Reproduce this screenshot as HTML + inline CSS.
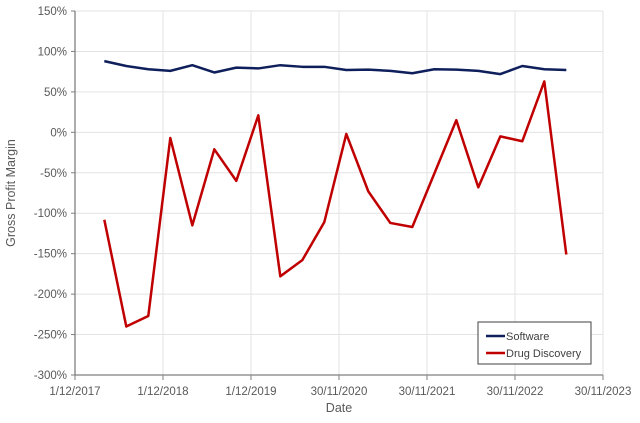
<!DOCTYPE html>
<html><head><meta charset="utf-8"><style>
body{margin:0;background:#fff;}
svg text{font-family:"Liberation Sans",sans-serif;}
</style></head><body>
<svg id="c" width="640" height="418" xmlns="http://www.w3.org/2000/svg"></svg>
<script>
const dates=[2018.25,2018.5,2018.75,2019.0,2019.25,2019.5,2019.75,2020.0,2020.25,2020.5,2020.75,2021.0,2021.25,2021.5,2021.75,2022.0,2022.25,2022.5,2022.75,2023.0,2023.25,2023.5];
const software=[88,82,78,76,83,74,80,79,83,81,81,77,77.5,76,73,78,77.5,76,72,82,78,77];
const drug=[-108,-240,-227,-7,-115,-21,-60,21,-178,-158,-111,-2,-73,-112,-117,-51,15,-68,-5,-11,63,-151];
const yTicks=[150,100,50,0,-50,-100,-150,-200,-250,-300];
const xTickVals=[2017.917,2018.917,2019.917,2020.917,2021.917,2022.917,2023.917];
const xTickLabels=["1/12/2017","1/12/2018","1/12/2019","30/11/2020","30/11/2021","30/11/2022","30/11/2023"];
const L=75,R=603,T=11,B=375;
const x=t=>L+(t-2017.917)/(2023.917-2017.917)*(R-L);
const y=v=>T+(150-v)/450*(B-T);
const svg=document.getElementById('c');
const NS='http://www.w3.org/2000/svg';
function mk(tag,attrs,parent){const e=document.createElementNS(NS,tag);for(const k in attrs)e.setAttribute(k,attrs[k]);(parent||svg).appendChild(e);return e;}
yTicks.forEach(v=>{
 const g=mk('line',{x1:L,x2:R,y1:y(v),y2:y(v),stroke:'#e3e3e3','stroke-width':1});
 
 
 const t=mk('text',{x:L-8,y:y(v)+4,'text-anchor':'end','font-size':11.5,fill:'#595959'});
 t.textContent=v+'%';
 
 
});
xTickVals.forEach((v,i)=>{
 const g=mk('line',{x1:x(v),x2:x(v),y1:T,y2:B,stroke:'#e3e3e3','stroke-width':1});
 
 
 const tk=mk('line',{x1:x(v),x2:x(v),y1:B,y2:B+5,stroke:'#7f7f7f','stroke-width':1});
 
 
 const t=mk('text',{x:x(v),y:B+20,'text-anchor':'middle','font-size':11.5,fill:'#595959'});
 t.textContent=xTickLabels[i];
 
 
});
yTicks.forEach(v=>{const tk=mk('line',{x1:L-4,x2:L,y1:y(v),y2:y(v),stroke:'#7f7f7f'});
 
 });
const ax=mk('path',{d:`M${L},${T}V${B}H${R}`,fill:'none',stroke:'#7f7f7f','stroke-width':1.3});


function line(vals,color,name){
 const p=mk('polyline',{points:vals.map((v,i)=>x(dates[i])+','+y(v)).join(' '),fill:'none',stroke:color,'stroke-width':2.5,'stroke-linejoin':'round'});
 
 
}
line(software,'#0e1f5b','software-line');
line(drug,'#c00000','drug-discovery-line');
const yt=mk('text',{x:0,y:0,transform:'translate(15,193) rotate(-90)','text-anchor':'middle','font-size':12.5,fill:'#595959'});
yt.textContent='Gross Profit Margin';


const xt=mk('text',{x:339,y:412,'text-anchor':'middle','font-size':12.5,fill:'#595959'});
xt.textContent='Date';


const lg=mk('g',{});


mk('rect',{x:478,y:322,width:113,height:42,fill:'#fff',stroke:'#404040','stroke-width':1},lg);
[['Software','#0e1f5b',336],['Drug Discovery','#c00000',353]].forEach(([n,c,yy])=>{
 const e=mk('g',{},lg);
 
 
 mk('line',{x1:486,x2:505,y1:yy,y2:yy,stroke:c,'stroke-width':2.5},e);
 const t=mk('text',{x:506,y:yy+4,'font-size':11,fill:'#404040'},e);t.textContent=n;
});
</script>
</body></html>
